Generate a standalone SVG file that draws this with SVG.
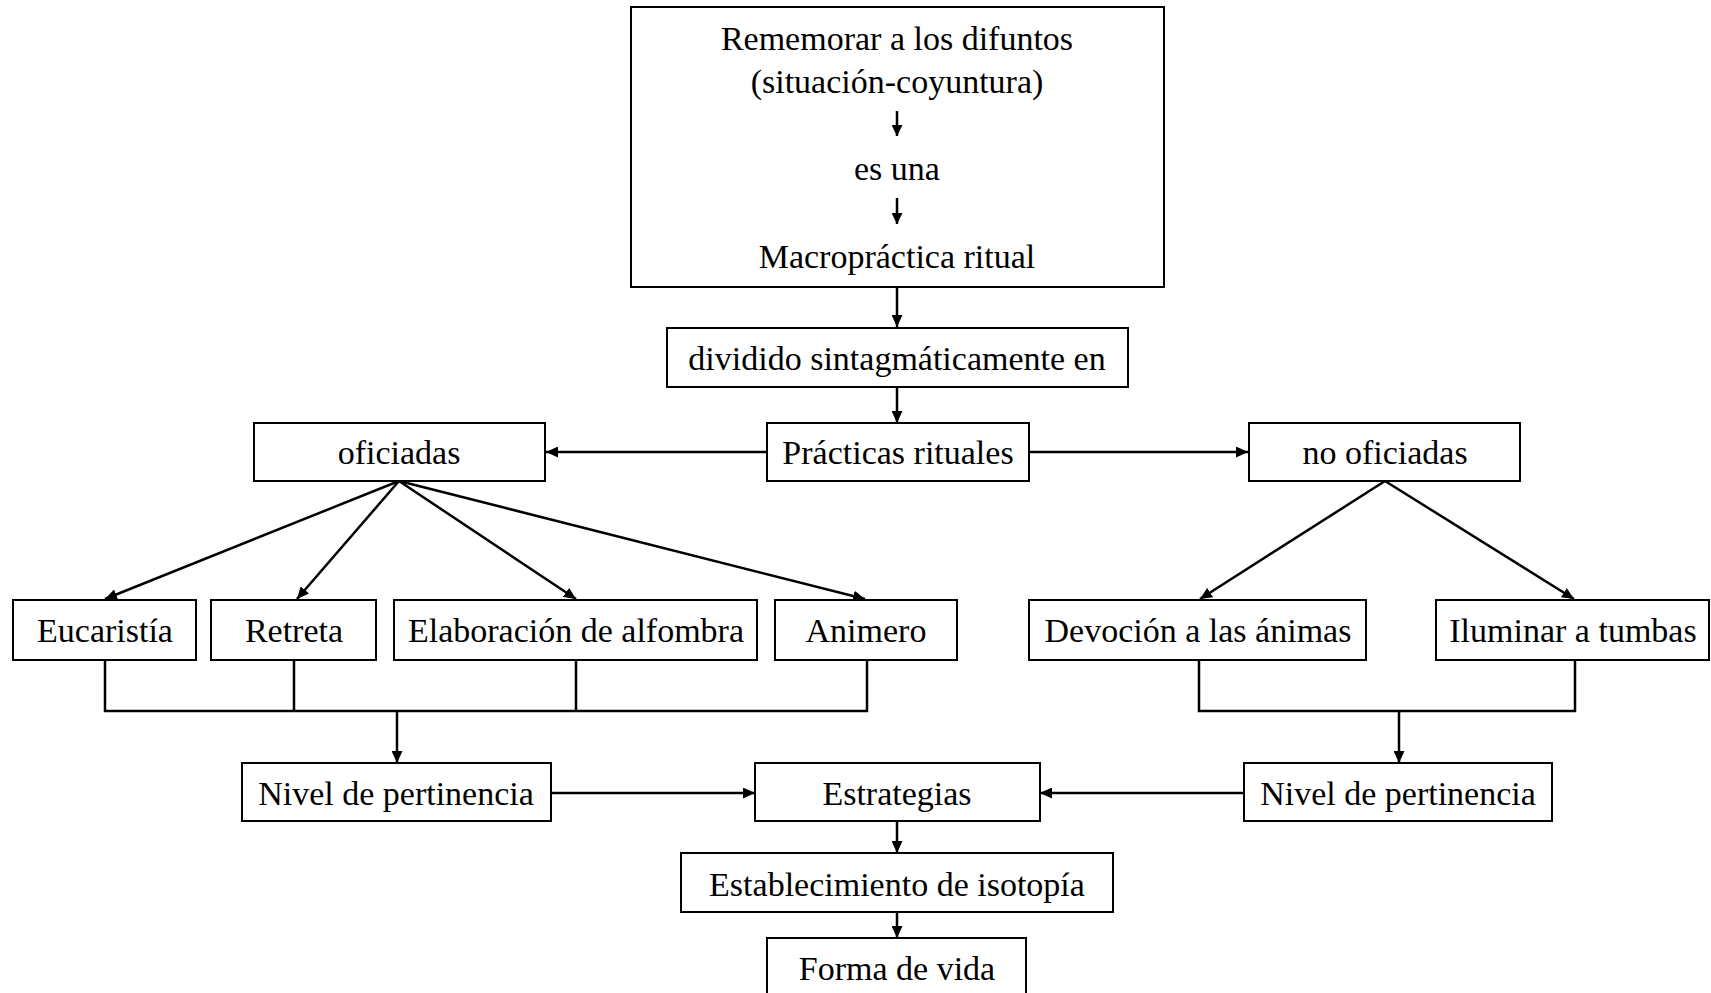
<svg xmlns="http://www.w3.org/2000/svg" width="1711" height="993" viewBox="0 0 1711 993">
  <style>
    .box { fill: #ffffff; stroke: #000000; stroke-width: 2; }
    .lbl { font-family: "Liberation Serif", "Times New Roman", serif; font-size: 34px; fill: #000000; text-anchor: middle; }
    .wire { fill: none; stroke: #000000; stroke-width: 2.5; }
    .arr { fill: none; stroke: #000000; stroke-width: 2.5; marker-end: url(#head); }
    .small { fill: none; stroke: #000000; stroke-width: 2.5; marker-end: url(#headSmall); }
  </style>
  <defs>
    <marker id="head" markerUnits="userSpaceOnUse" markerWidth="12" markerHeight="11" refX="12" refY="5.5" orient="auto">
      <path d="M0,0 L12,5.5 L0,11 z" fill="#000000"/>
    </marker>
    <marker id="headSmall" markerUnits="userSpaceOnUse" markerWidth="11" markerHeight="11" refX="11" refY="5.5" orient="auto">
      <path d="M0,0 L11,5.5 L0,11 z" fill="#000000"/>
    </marker>
  </defs>
  <rect width="1711" height="993" fill="#ffffff"/>

  <!-- connectors -->
  <g id="connectors">
    <path class="arr" d="M897,287 V327"/>
    <path class="arr" d="M897,387 V423"/>
    <path class="arr" d="M767,452 H546"/>
    <path class="arr" d="M1029,452 H1248"/>
    <!-- fan from oficiadas -->
    <path class="arr" d="M399,481 L105,599"/>
    <path class="arr" d="M399,481 L297,599"/>
    <path class="arr" d="M399,481 L576,599"/>
    <path class="arr" d="M399,481 L865,599"/>
    <!-- fan from no oficiadas -->
    <path class="arr" d="M1385,481 L1200,599"/>
    <path class="arr" d="M1385,481 L1574,599"/>
    <!-- left bracket -->
    <path class="wire" d="M105,660 V711 H867 V660 M294,660 V711 M576,660 V711"/>
    <path class="arr" d="M397,711 V763"/>
    <!-- right bracket -->
    <path class="wire" d="M1199,660 V711 H1575 V660"/>
    <path class="arr" d="M1399,711 V763"/>
    <!-- into Estrategias -->
    <path class="arr" d="M551,793 H755"/>
    <path class="arr" d="M1244,793 H1040"/>
    <path class="arr" d="M897,821 V853"/>
    <path class="arr" d="M897,912 V938"/>
  </g>

  <g id="n-rememorar">
    <rect class="box" x="631" y="7" width="533" height="280"/>
    <text class="lbl" x="897" y="50">Rememorar a los difuntos</text>
    <text class="lbl" x="897" y="93">(situación-coyuntura)</text>
    <path class="small" d="M897,111 V136"/>
    <text class="lbl" x="897" y="180">es una</text>
    <path class="small" d="M897,198 V224"/>
    <text class="lbl" x="897" y="268">Macropráctica ritual</text>
  </g>

  <g id="n-dividido">
    <rect class="box" x="667" y="328" width="461" height="59"/>
    <text class="lbl" x="897" y="370">dividido sintagmáticamente en</text>
  </g>

  <g id="n-practicas">
    <rect class="box" x="767" y="423" width="262" height="58"/>
    <text class="lbl" x="898" y="464">Prácticas rituales</text>
  </g>

  <g id="n-oficiadas">
    <rect class="box" x="254" y="423" width="291" height="58"/>
    <text class="lbl" x="399" y="464">oficiadas</text>
  </g>

  <g id="n-no-oficiadas">
    <rect class="box" x="1249" y="423" width="271" height="58"/>
    <text class="lbl" x="1385" y="464">no oficiadas</text>
  </g>

  <g id="n-eucaristia">
    <rect class="box" x="13" y="600" width="183" height="60"/>
    <text class="lbl" x="105" y="642">Eucaristía</text>
  </g>

  <g id="n-retreta">
    <rect class="box" x="211" y="600" width="165" height="60"/>
    <text class="lbl" x="294" y="642">Retreta</text>
  </g>

  <g id="n-alfombra">
    <rect class="box" x="394" y="600" width="363" height="60"/>
    <text class="lbl" x="576" y="642">Elaboración de alfombra</text>
  </g>

  <g id="n-animero">
    <rect class="box" x="775" y="600" width="182" height="60"/>
    <text class="lbl" x="866" y="642">Animero</text>
  </g>

  <g id="n-devocion">
    <rect class="box" x="1029" y="600" width="337" height="60"/>
    <text class="lbl" x="1198" y="642">Devoción a las ánimas</text>
  </g>

  <g id="n-iluminar">
    <rect class="box" x="1436" y="600" width="273" height="60"/>
    <text class="lbl" x="1573" y="642">Iluminar a tumbas</text>
  </g>

  <g id="n-nivel-izq">
    <rect class="box" x="242" y="763" width="309" height="58"/>
    <text class="lbl" x="396" y="805">Nivel de pertinencia</text>
  </g>

  <g id="n-estrategias">
    <rect class="box" x="755" y="763" width="285" height="58"/>
    <text class="lbl" x="897" y="805">Estrategias</text>
  </g>

  <g id="n-nivel-der">
    <rect class="box" x="1244" y="763" width="308" height="58"/>
    <text class="lbl" x="1398" y="805">Nivel de pertinencia</text>
  </g>

  <g id="n-isotopia">
    <rect class="box" x="681" y="853" width="432" height="59"/>
    <text class="lbl" x="897" y="896">Establecimiento de isotopía</text>
  </g>

  <g id="n-forma">
    <rect class="box" x="767" y="938" width="259" height="70"/>
    <text class="lbl" x="897" y="980">Forma de vida</text>
  </g>
</svg>
